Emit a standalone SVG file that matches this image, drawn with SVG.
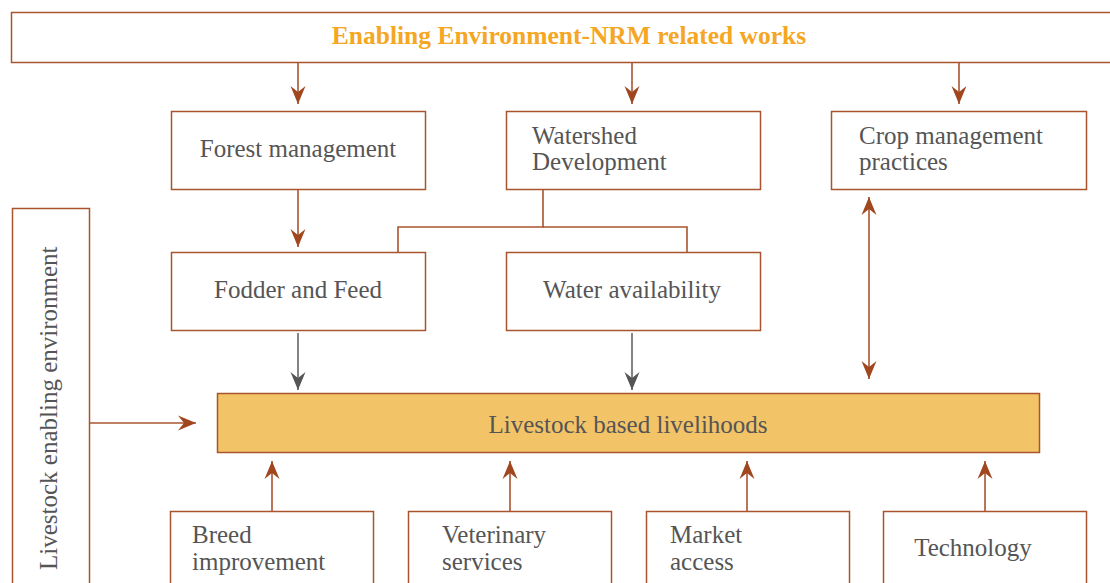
<svg xmlns="http://www.w3.org/2000/svg" width="1110" height="583" viewBox="0 0 1110 583">
  <defs>
    <style>
      .box { fill: #ffffff; stroke: #a9542f; stroke-width: 1.5; }
      .main { fill: #f3c367; stroke: #a9542f; stroke-width: 1.5; }
      .lbl { font-family: "Liberation Serif", "Times New Roman", serif; font-size: 25px; fill: #555555; }
      .title { font-family: "Liberation Serif", "Times New Roman", serif; font-size: 25.5px; font-weight: bold; fill: #f5a623; }
      .link { fill: none; stroke: #a9542f; stroke-width: 1.6; }
      .grey { fill: none; stroke: #777777; stroke-width: 1.8; }
    </style>
    <marker id="head" viewBox="0 0 12 10" refX="12" refY="5" markerWidth="18" markerHeight="16" markerUnits="userSpaceOnUse" orient="auto-start-reverse">
      <path d="M0,0 L12,5 L0,10 L4,5 z" fill="#a0471f"/>
    </marker>
    <marker id="headGrey" viewBox="0 0 12 10" refX="12" refY="5" markerWidth="18" markerHeight="16" markerUnits="userSpaceOnUse" orient="auto">
      <path d="M0,0 L12,5 L0,10 L4,5 z" fill="#555555"/>
    </marker>
  </defs>

  <!-- top banner -->
  <g id="enabling-env">
    <rect class="box" x="11.5" y="12.5" width="1110" height="50"/>
    <text class="title" x="569" y="44" text-anchor="middle">Enabling Environment-NRM related works</text>
  </g>

  <g id="forest">
    <rect class="box" x="171.5" y="111.5" width="254" height="78"/>
    <text class="lbl" x="298" y="157" text-anchor="middle">Forest management</text>
  </g>

  <g id="watershed">
    <rect class="box" x="506.5" y="111.5" width="254" height="78"/>
    <text class="lbl" x="532" y="144">Watershed</text>
    <text class="lbl" x="532" y="170">Development</text>
  </g>

  <g id="crop">
    <rect class="box" x="831.5" y="111.5" width="255" height="78"/>
    <text class="lbl" x="859" y="144">Crop management</text>
    <text class="lbl" x="859" y="170">practices</text>
  </g>

  <g id="fodder">
    <rect class="box" x="171.5" y="252.5" width="254" height="78"/>
    <text class="lbl" x="298" y="298" text-anchor="middle">Fodder and Feed</text>
  </g>

  <g id="water">
    <rect class="box" x="506.5" y="252.5" width="254" height="78"/>
    <text class="lbl" x="632" y="298" text-anchor="middle">Water availability</text>
  </g>

  <g id="livestock-env">
    <rect class="box" x="12.5" y="208.5" width="77" height="390"/>
    <text class="lbl" transform="translate(57,570) rotate(-90)" x="0" y="0">Livestock enabling environment</text>
  </g>

  <g id="livelihoods">
    <rect class="main" x="217.5" y="393.5" width="822" height="59"/>
    <text class="lbl" x="628" y="433" text-anchor="middle">Livestock based livelihoods</text>
  </g>

  <g id="breed">
    <rect class="box" x="170.5" y="511.5" width="203" height="90"/>
    <text class="lbl" x="192" y="543">Breed</text>
    <text class="lbl" x="192" y="570">improvement</text>
  </g>

  <g id="veterinary">
    <rect class="box" x="408.5" y="511.5" width="203" height="90"/>
    <text class="lbl" x="442" y="543">Veterinary</text>
    <text class="lbl" x="442" y="570">services</text>
  </g>

  <g id="market">
    <rect class="box" x="646.5" y="511.5" width="203" height="90"/>
    <text class="lbl" x="670" y="543">Market</text>
    <text class="lbl" x="670" y="570">access</text>
  </g>

  <g id="technology">
    <rect class="box" x="883.5" y="511.5" width="203" height="90"/>
    <text class="lbl" x="973" y="556" text-anchor="middle">Technology</text>
  </g>

  <!-- connectors -->
  <g id="connectors">
    <line class="link" x1="298" y1="63" x2="298" y2="104" marker-end="url(#head)"/>
    <line class="link" x1="632" y1="63" x2="632" y2="104" marker-end="url(#head)"/>
    <line class="link" x1="959" y1="63" x2="959" y2="104" marker-end="url(#head)"/>
    <line class="link" x1="298" y1="190" x2="298" y2="247" marker-end="url(#head)"/>
    <polyline class="link" points="543,190 543,227 398,227 398,252"/>
    <polyline class="link" points="543,227 687,227 687,252"/>
    <line class="grey" x1="298" y1="333" x2="298" y2="390" marker-end="url(#headGrey)"/>
    <line class="grey" x1="632" y1="333" x2="632" y2="390" marker-end="url(#headGrey)"/>
    <line class="link" x1="869" y1="197" x2="869" y2="379" marker-start="url(#head)" marker-end="url(#head)"/>
    <line class="link" x1="90" y1="423" x2="196" y2="423" marker-end="url(#head)"/>
    <line class="link" x1="272" y1="511" x2="272" y2="461" marker-end="url(#head)"/>
    <line class="link" x1="510" y1="511" x2="510" y2="461" marker-end="url(#head)"/>
    <line class="link" x1="747" y1="511" x2="747" y2="461" marker-end="url(#head)"/>
    <line class="link" x1="985" y1="511" x2="985" y2="461" marker-end="url(#head)"/>
  </g>
</svg>
